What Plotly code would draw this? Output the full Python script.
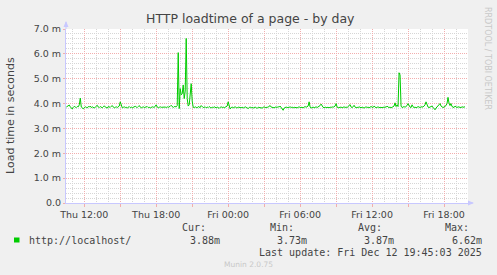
import pandas as pd
import plotly.graph_objects as go

# ---- data (5-minute samples, Thu Dec 11 10:30 -> Fri Dec 12 19:45) ----
start_time = "2025-12-11 10:30"
step = "5min"
load_ms = [
    3.86, 3.88, 3.90, 3.94, 3.87, 3.82, 3.78, 3.85, 3.89, 3.86, 3.84, 3.88, 3.87, 3.95, 4.22, 3.86, 3.80, 3.79, 3.84, 3.87,
    3.85, 3.83, 3.88, 3.86, 3.90, 3.84, 3.87, 3.85, 3.82, 3.86, 3.89, 3.93, 3.86, 3.84, 3.88, 3.85, 3.83, 3.87, 3.91, 3.86,
    3.84, 3.82, 3.88, 3.86, 3.85, 3.89, 3.92, 3.86, 3.83, 3.85, 3.87, 3.84, 3.86, 3.90, 4.07, 3.88, 3.83, 3.85, 3.87, 3.84,
    3.86, 3.82, 3.85, 3.88, 3.84, 3.86, 3.83, 3.85, 3.87, 3.89, 3.86, 3.84, 3.88, 3.92, 3.86, 3.83, 3.85, 3.87, 3.84, 3.86,
    3.85, 3.88, 3.84, 3.86, 3.82, 3.85, 3.87, 3.86, 3.84, 3.90, 3.95, 3.86, 3.83, 3.85, 3.87, 3.85, 3.86, 3.84, 3.88, 3.86,
    3.84, 3.87, 3.85, 3.86, 3.89, 3.93, 3.86, 3.84, 3.88, 3.86, 3.87, 3.92, 6.05, 3.80, 4.60, 4.35, 4.40, 4.75, 4.20, 4.50,
    6.62, 4.20, 3.90, 3.95, 4.30, 4.80, 4.10, 3.85, 3.84, 3.87, 3.85, 3.83, 3.88, 3.86, 3.84, 3.92, 3.86, 3.84, 3.85, 3.87,
    3.83, 3.86, 3.84, 3.88, 3.85, 3.82, 3.86, 3.84, 3.87, 3.85, 3.83, 3.86, 3.84, 3.81, 3.85, 3.87, 3.84, 3.86, 3.83, 3.85,
    3.87, 3.90, 4.07, 3.86, 3.78, 3.84, 3.86, 3.83, 3.85, 3.87, 3.84, 3.82, 3.86, 3.84, 3.85, 3.83, 3.86, 3.82, 3.84, 3.87,
    3.85, 3.83, 3.80, 3.84, 3.86, 3.83, 3.85, 3.82, 3.84, 3.86, 3.83, 3.81, 3.85, 3.84, 3.86, 3.83, 3.82, 3.85, 3.87, 3.84,
    3.83, 3.85, 3.86, 3.88, 3.92, 3.86, 3.84, 3.85, 3.83, 3.86, 3.84, 3.85, 3.87, 3.86, 3.90, 3.84, 3.80, 3.73, 3.82, 3.85,
    3.86, 3.84, 3.83, 3.85, 3.87, 3.84, 3.86, 3.83, 3.85, 3.84, 3.86, 3.83, 3.85, 3.87, 3.84, 3.86, 3.85, 3.83, 3.86, 3.88,
    3.85, 3.86, 3.90, 4.07, 3.86, 3.82, 3.84, 3.86, 3.83, 3.85, 3.87, 3.84, 3.86, 3.88, 3.92, 3.98, 3.88, 3.85, 3.83, 3.86,
    3.84, 3.86, 3.85, 3.83, 3.86, 3.84, 3.87, 3.85, 3.86, 3.90, 4.00, 3.86, 3.83, 3.85, 3.84, 3.86, 3.83, 3.85, 3.87, 3.84,
    3.86, 3.84, 3.88, 3.90, 3.96, 3.86, 3.84, 3.87, 3.93, 3.86, 3.83, 3.85, 3.84, 3.87, 3.85, 3.83, 3.86, 3.84, 3.82, 3.85,
    3.87, 3.84, 3.86, 3.83, 3.85, 3.88, 3.86, 3.84, 3.90, 3.86, 3.83, 3.85, 3.87, 3.84, 3.86, 3.85, 3.83, 3.86, 3.84, 3.87,
    3.85, 3.90, 3.86, 3.84, 3.86, 3.83, 3.85, 3.87, 3.90, 4.03, 3.88, 3.95, 3.88, 5.24, 5.15, 3.90, 3.84, 3.86, 3.88, 3.85,
    3.87, 3.92, 4.00, 3.90, 3.86, 3.84, 3.95, 3.87, 3.84, 3.86, 3.83, 3.85, 3.88, 3.86, 3.84, 3.87, 3.85, 3.86, 3.90, 3.95,
    4.07, 3.92, 3.86, 3.84, 3.86, 3.88, 3.90, 3.85, 3.80, 3.75, 3.82, 3.86, 3.88, 3.93, 4.00, 3.90, 3.86, 3.84, 3.86, 3.88,
    3.92, 4.00, 4.25, 4.02, 3.92, 4.00, 3.88, 3.86, 3.84, 3.90, 3.86, 3.84, 3.87, 3.85, 3.86, 3.84, 3.87, 3.86, 3.85, 3.88,
]
x_range = ["2025-12-11 10:28:30", "2025-12-12 20:00"]
x_tick_times = ["2025-12-11 12:00", "2025-12-11 15:00", "2025-12-11 18:00", "2025-12-11 21:00",
                "2025-12-12 00:00", "2025-12-12 03:00", "2025-12-12 06:00", "2025-12-12 09:00",
                "2025-12-12 12:00", "2025-12-12 15:00", "2025-12-12 18:00"]
x_tick_labels = ["Thu 12:00", "", "Thu 18:00", "", "Fri 00:00", "", "Fri 06:00", "",
                 "Fri 12:00", "", "Fri 18:00"]
y_tick_vals = [0, 1, 2, 3, 4, 5, 6, 7]
y_tick_labels = ["0.0", "1.0 m", "2.0 m", "3.0 m", "4.0 m", "5.0 m", "6.0 m", "7.0 m"]
series_name = "http://localhost/"
stat_headers = ["Cur:", "Min:", "Avg:", "Max:"]
stat_values = ["3.88m", "3.73m", "3.87m", "6.62m"]
title_text = "HTTP loadtime of a page - by day"
y_title = "Load time in seconds"
last_update = "Last update: Fri Dec 12 19:45:03 2025"
footer = "Munin 2.0.75"
side_text = "RRDTOOL / TOBI OETIKER"

times = pd.date_range(start_time, periods=len(load_ms), freq=step)

# ---- layout geometry (pixels) ----
W, H = 497, 275
L, R, T, B = 66, 29, 29, 72
PW, PH = W - L - R, H - T - B

def px(x):
    return (x - L) / PW

def py(y):
    return (H - B - y) / PH

GREEN = "#00CC00"
AXIS = "#C8C8FF"
MGRID = "#F2AEAE"
GRID = "#D6D6D6"
TXT = "#444444"
SANS = "DejaVu Sans"
MONO = "DejaVu Sans Mono"

fig = go.Figure()
fig.add_trace(go.Scatter(x=times, y=load_ms, mode="lines",
                         line=dict(color=GREEN, width=1), showlegend=False,
                         hoverinfo="skip"))

fig.update_layout(
    width=W, height=H,
    margin=dict(l=L, r=R, t=T, b=B, pad=0),
    paper_bgcolor="#F0F0F0", plot_bgcolor="#FFFFFF",
    showlegend=False,
    font=dict(family=SANS, size=10, color=TXT),
)
fig.update_xaxes(
    type="date", range=x_range,
    tickmode="array", tickvals=x_tick_times, ticktext=x_tick_labels,
    showgrid=True, gridcolor=MGRID, griddash="1px,1px", gridwidth=1,
    ticks="outside", ticklen=3, tickcolor=MGRID, tickwidth=1,
    tickfont=dict(family=SANS, size=9.5, color=TXT),
    showline=True, linecolor=AXIS, linewidth=1,
    minor=dict(dtick=3600000, tick0="2025-12-11 00:00", showgrid=True,
               gridcolor=GRID, griddash="1px,1px", gridwidth=1, ticks=""),
    zeroline=False, fixedrange=True,
)
fig.update_yaxes(
    range=[0, 7], tickmode="array", tickvals=y_tick_vals, ticktext=y_tick_labels,
    showgrid=True, gridcolor=MGRID, griddash="1px,1px", gridwidth=1,
    ticks="outside", ticklen=2, tickcolor=MGRID, tickwidth=1,
    tickfont=dict(family=SANS, size=9.5, color=TXT),
    showline=True, linecolor=AXIS, linewidth=1,
    minor=dict(dtick=0.2, showgrid=True, gridcolor=GRID, griddash="1px,1px",
               gridwidth=1, ticks=""),
    zeroline=False, fixedrange=True,
)

# axis arrows
fig.add_shape(type="line", xref="paper", yref="paper",
              x0=0, x1=0, y0=1, y1=py(22), line=dict(color=AXIS, width=1))
fig.add_shape(type="path", xref="paper", yref="paper",
              path=f"M {px(63.5)} {py(27)} L {px(68.5)} {py(27)} L {px(66)} {py(21)} Z",
              fillcolor=AXIS, line=dict(color=AXIS, width=0))
fig.add_shape(type="line", xref="paper", yref="paper",
              x0=1, x1=px(473), y0=0, y1=0, line=dict(color=AXIS, width=1))
fig.add_shape(type="path", xref="paper", yref="paper",
              path=f"M {px(468)} {py(200.5)} L {px(468)} {py(205.5)} L {px(474)} {py(203)} Z",
              fillcolor=AXIS, line=dict(color=AXIS, width=0))

def text(x, y, s, size, xanchor="left", color=TXT, family=SANS, angle=0, yanchor="middle"):
    fig.add_annotation(x=px(x), y=py(y), xref="paper", yref="paper", text=s,
                       showarrow=False, xanchor=xanchor, yanchor=yanchor,
                       textangle=angle, font=dict(family=family, size=size, color=color))

text(250.5, 19, title_text, 12.5, xanchor="center")
text(10, 116, y_title, 11, xanchor="center", angle=-90)
text(487, 58, side_text, 8, xanchor="center", color="#C8C8C8", angle=90)

# legend
fig.add_shape(type="rect", xref="paper", yref="paper",
              x0=px(14), x1=px(19.5), y0=py(237.5), y1=py(242.5),
              fillcolor=GREEN, line=dict(width=0))
text(26.5, 240, series_name, 10, family=MONO)
hdr_right = [208, 296, 383.5, 470.5]
val_right = [221.5, 308.5, 396, 483.5]
for hx, h, vx, v in zip(hdr_right, stat_headers, val_right, stat_values):
    text(hx, 227.5, h, 10, xanchor="right", family=MONO)
    text(vx, 240, v, 10, xanchor="right", family=MONO)
text(483.5, 252, last_update, 10, xanchor="right", family=MONO)
text(248, 264, footer, 7.5, xanchor="center", color="#C8C8C8")

fig.write_html("out.html")
